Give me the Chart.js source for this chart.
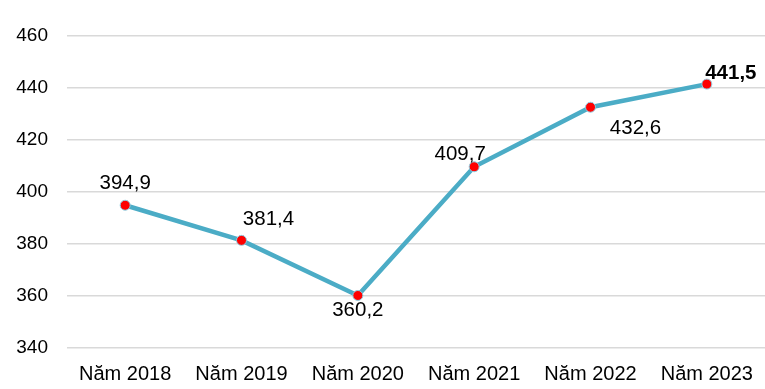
<!DOCTYPE html>
<html>
<head>
<meta charset="utf-8">
<script src="https://cdn.jsdelivr.net/npm/chart.js@4/dist/chart.umd.min.js"></script>
<style>
  html, body { margin: 0; padding: 0; background: #fff; }
  #wrap { width: 765px; height: 389px; }
</style>
</head>
<body>
<div id="wrap"><canvas id="chart"></canvas></div>
<script>
// Chart data
const years = ['Năm 2018', 'Năm 2019', 'Năm 2020', 'Năm 2021', 'Năm 2022', 'Năm 2023'];
const values = [394.9, 381.4, 360.2, 409.7, 432.6, 441.5];
const yTicks = [340, 360, 380, 400, 420, 440, 460];

// Where each value label sits relative to its point (px)
const labelOffsets = [[0, -22], [27, -21], [0, 15], [-14, -12], [45, 21], [24, -11]];

const FONT = "'Liberation Sans', Arial, sans-serif";

// Draw value labels next to points
const valueLabels = {
    id: 'valueLabels',
    afterDatasetsDraw(chart) {
        const ctx = chart.ctx;
        const meta = chart.getDatasetMeta(0);
        ctx.save();
        ctx.fillStyle = '#000';
        ctx.textAlign = 'center';
        ctx.textBaseline = 'middle';
        meta.data.forEach((pt, i) => {
            const last = i === values.length - 1;
            ctx.font = (last ? 'bold ' : '') + '20.5px ' + FONT;
            const txt = values[i].toFixed(1).replace('.', ',');
            ctx.fillText(txt, pt.x + labelOffsets[i][0], pt.y + labelOffsets[i][1]);
        });
        ctx.restore();
    }
};

new Chart(document.getElementById('chart'), {
    type: 'line',
    data: {
        labels: years,
        datasets: [{
            data: values,
            borderColor: '#4bacc6',
            borderWidth: 4.5,
            pointBackgroundColor: '#ff0000',
            pointBorderColor: '#8fd0e3',
            pointBorderWidth: 1,
            pointRadius: 5,
            tension: 0
        }]
    },
    options: {
        responsive: true,
        maintainAspectRatio: false,
        animation: false,
        layout: { autoPadding: false, padding: { top: 36, right: 0, left: 0, bottom: 0 } },
        plugins: { legend: { display: false }, tooltip: { enabled: false } },
        scales: {
            x: {
                offset: true,
                grid: { display: false, drawTicks: false },
                border: { display: false },
                ticks: { color: '#000', font: { family: FONT, size: 20 }, padding: 14, maxRotation: 0 },
                afterFit(s) { s.height = 41; s.paddingLeft = 0; s.paddingRight = 0; }
            },
            y: {
                min: 340,
                max: 460,
                afterBuildTicks(s) { s.ticks = yTicks.map(v => ({ value: v })); },
                grid: { color: '#d9d9d9', lineWidth: 1.5, drawTicks: false },
                border: { display: false },
                ticks: { color: '#000', font: { family: FONT, size: 19 }, padding: 19 },
                afterFit(s) { s.width = 67; s.paddingTop = 0; s.paddingBottom = 0; }
            }
        }
    },
    plugins: [valueLabels]
});
</script>
</body>
</html>
